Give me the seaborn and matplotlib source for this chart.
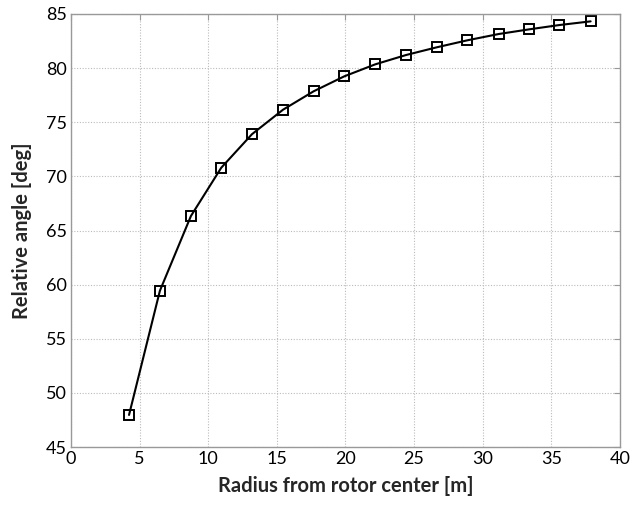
import matplotlib
matplotlib.use("Agg")
import matplotlib.pyplot as plt
import seaborn as sns
import pandas as pd

radius = [4.23, 6.48, 8.74, 10.95, 13.19, 15.45, 17.68, 19.91, 22.17, 24.41,
          26.64, 28.88, 31.16, 33.37, 35.58, 37.86]
angle = [47.96, 59.44, 66.34, 70.8, 73.9, 76.16, 77.86, 79.24, 80.35, 81.21,
         81.92, 82.57, 83.15, 83.58, 83.98, 84.32]
x_ticks = [0, 5, 10, 15, 20, 25, 30, 35, 40]
y_ticks = [45, 50, 55, 60, 65, 70, 75, 80, 85]

sns.set_style("white")
plt.rcParams['font.family'] = ['Lato', 'DejaVu Sans']

df = pd.DataFrame({"radius": radius, "angle": angle})

fig = plt.figure(figsize=(6.32, 5.09), dpi=100)
ax = fig.add_axes([0.1123, 0.1218, 0.8687, 0.8507])
sns.lineplot(data=df, x="radius", y="angle", ax=ax, color="black", lw=1.5,
             marker="s", markersize=7, markerfacecolor="none",
             markeredgecolor="black", markeredgewidth=1.4)

ax.set_xlim(0, 40)
ax.set_ylim(45, 85)
ax.set_xticks(x_ticks)
ax.set_yticks(y_ticks)
ax.grid(True, linestyle=(0, (1, 1.5)), color="#bbbbbb", linewidth=0.8)
for s in ax.spines.values():
    s.set_color("#999999")
    s.set_linewidth(1.0)
ax.tick_params(direction="in", length=4, color="#999999", top=True, right=True,
               labelsize=13, labelcolor="black", pad=3)
ax.set_xlabel("Radius from rotor center [m]", fontsize=14.5, fontweight="bold", labelpad=6)
ax.set_ylabel("Relative angle [deg]", fontsize=14.5, fontweight="bold", labelpad=10)

fig.savefig("out.png", dpi=100)
